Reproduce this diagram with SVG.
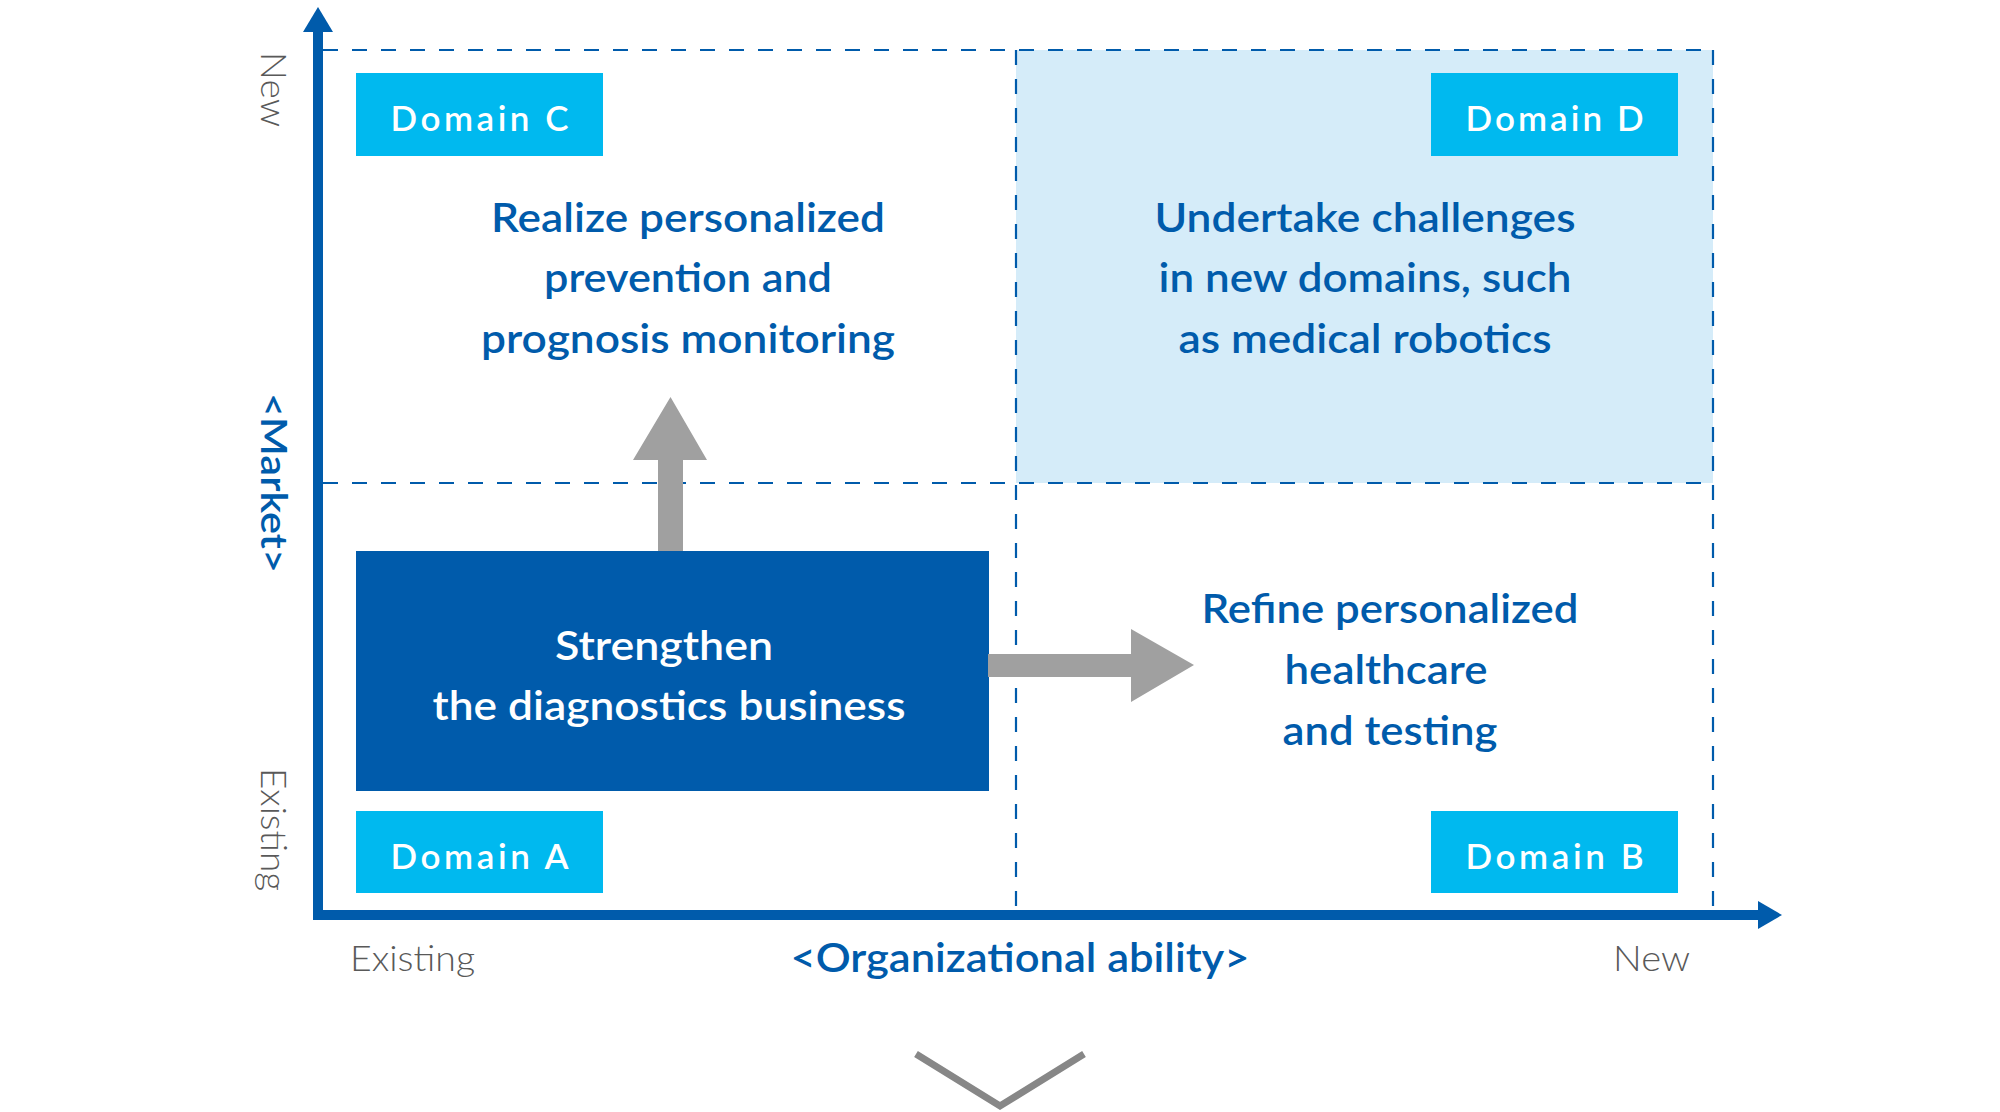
<svg xmlns="http://www.w3.org/2000/svg" width="2000" height="1112" viewBox="0 0 2000 1112">
<style>
.dash{stroke:#005bab;stroke-width:2.2;stroke-dasharray:15 14;fill:none}
.axis{stroke:#005bab;stroke-width:10;fill:none}
.head{fill:#005bab}
.tag{fill:#00b9ef}
.tagt{font-family:Lato,"Noto Sans",sans-serif;font-size:35px;font-weight:600;fill:#ffffff;text-anchor:middle}
.main{font-family:Lato,"Noto Sans",sans-serif;font-size:40px;font-weight:600;fill:#005bab;text-anchor:middle}
.wmain{font-family:Lato,"Noto Sans",sans-serif;font-size:40px;font-weight:600;fill:#ffffff;text-anchor:middle}
.lab{font-family:Lato,"Noto Sans",sans-serif;font-size:35px;font-weight:300;fill:#595959}
.axt{font-family:Lato,"Noto Sans",sans-serif;font-weight:600;fill:#005bab}
.garrow{fill:#a0a0a0}
</style>
<rect width="2000" height="1112" fill="#ffffff"/>
<g id="quadrant-d-bg"><rect x="1016" y="50" width="697" height="433" fill="#d5ecf9"/></g>
<g id="grid">
<line class="dash" x1="323" y1="50" x2="1713" y2="50"/>
<line class="dash" x1="323" y1="483" x2="1713" y2="483"/>
<line class="dash" x1="1016" y1="50" x2="1016" y2="912"/>
<line class="dash" x1="1713" y1="50" x2="1713" y2="912"/>
</g>
<g id="axes">
<polyline class="axis" points="318,30 318,915 1760,915"/>
<polygon class="head" points="318,7 303,32 333,32"/>
<polygon class="head" points="1782,915 1758,901 1758,929"/>
</g>
<g id="axis-labels">
<text class="lab" x="350" y="971" textLength="125" lengthAdjust="spacingAndGlyphs">Existing</text>
<text class="lab" x="1613" y="971" textLength="77" lengthAdjust="spacingAndGlyphs">New</text>
<text class="axt" x="1020" y="972" font-size="40" text-anchor="middle" textLength="459" lengthAdjust="spacingAndGlyphs">&lt;Organizational ability&gt;</text>
<text class="lab" transform="translate(261,52) rotate(90)" textLength="75" lengthAdjust="spacingAndGlyphs">New</text>
<text class="lab" transform="translate(261,768) rotate(90)" textLength="123" lengthAdjust="spacingAndGlyphs">Existing</text>
<text class="axt" transform="translate(261,393) rotate(90)" font-size="37" textLength="180" lengthAdjust="spacingAndGlyphs">&lt;Market&gt;</text>
</g>
<g id="domain-c">
<rect class="tag" x="356" y="73" width="247" height="83"/>
<text class="tagt" x="479.5" y="131" textLength="178">Domain C</text>
<text class="main" x="688" y="232" textLength="394" lengthAdjust="spacingAndGlyphs">Realize personalized</text>
<text class="main" x="688" y="292" textLength="288" lengthAdjust="spacingAndGlyphs">prevention and</text>
<text class="main" x="688" y="353" textLength="414" lengthAdjust="spacingAndGlyphs">prognosis monitoring</text>
</g>
<g id="domain-d">
<rect class="tag" x="1431" y="73" width="247" height="83"/>
<text class="tagt" x="1554.5" y="131" textLength="178">Domain D</text>
<text class="main" x="1365" y="232" textLength="421" lengthAdjust="spacingAndGlyphs">Undertake challenges</text>
<text class="main" x="1365" y="292" textLength="413" lengthAdjust="spacingAndGlyphs">in new domains, such</text>
<text class="main" x="1365" y="353" textLength="373" lengthAdjust="spacingAndGlyphs">as medical robotics</text>
</g>
<g id="domain-a">
<rect x="356" y="551" width="633" height="240" fill="#005bab"/>
<text class="wmain" x="664" y="660" textLength="218" lengthAdjust="spacingAndGlyphs">Strengthen</text>
<text class="wmain" x="669" y="720" textLength="473" lengthAdjust="spacingAndGlyphs">the diagnostics business</text>
<rect class="tag" x="356" y="811" width="247" height="82"/>
<text class="tagt" x="479.5" y="869" textLength="178">Domain A</text>
</g>
<g id="domain-b">
<text class="main" x="1390" y="623" textLength="377" lengthAdjust="spacingAndGlyphs">Refine personalized</text>
<text class="main" x="1386" y="684" textLength="203" lengthAdjust="spacingAndGlyphs">healthcare</text>
<text class="main" x="1390" y="745" textLength="215" lengthAdjust="spacingAndGlyphs">and testing</text>
<rect class="tag" x="1431" y="811" width="247" height="82"/>
<text class="tagt" x="1554.5" y="869" textLength="178">Domain B</text>
</g>
<g id="connectors">
<polygon class="garrow" points="658,551 658,460 633,460 670.5,397 707,460 683,460 683,551"/>
<polygon class="garrow" points="988,654 1131,654 1131,629 1194,665 1131,702 1131,677 988,677"/>
<polyline points="916,1054 1000,1106 1084,1054" fill="none" stroke="#878787" stroke-width="7"/>
</g>
</svg>
